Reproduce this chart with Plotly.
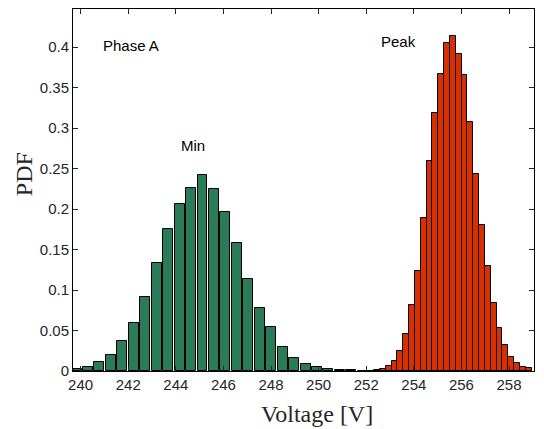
import plotly.graph_objects as go

# bin centres (V) and PDF heights
min_start = 239.83
min_step = 0.481
min_pdf = [0.003, 0.0053, 0.0115, 0.0197, 0.0369, 0.059, 0.0919, 0.1337, 0.1756,
           0.2068, 0.226, 0.2425, 0.2248, 0.196, 0.158, 0.114, 0.0784, 0.0542,
           0.0291, 0.016, 0.0084, 0.0055, 0.002, 0.0015, 0.001, 0.0005]
min_v = [round(min_start + i * min_step, 3) for i in range(len(min_pdf))]

peak_start = 251.965
peak_step = 0.245
peak_pdf = [0.0003, 0.0005, 0.001, 0.003, 0.006, 0.0123, 0.0246, 0.046, 0.081,
            0.124, 0.189, 0.259, 0.319, 0.367, 0.4045, 0.414, 0.392, 0.366,
            0.3077, 0.2437, 0.1797, 0.130, 0.084, 0.0525, 0.032, 0.0172,
            0.0094, 0.0053, 0.0033]
peak_v = [round(peak_start + i * peak_step, 3) for i in range(len(peak_pdf))]

x_ticks = list(range(240, 259, 2))
y_ticks = [0, 0.05, 0.1, 0.15, 0.2, 0.25, 0.3, 0.35, 0.4]
y_labels = ["0", "0.05", "0.1", "0.15", "0.2", "0.25", "0.3", "0.35", "0.4"]

fig = go.Figure()
fig.add_trace(go.Bar(
    x=min_v, y=min_pdf, width=0.42, name="Min",
    marker=dict(color="#2a7b57", line=dict(color="black", width=1)),
))
fig.add_trace(go.Bar(
    x=peak_v, y=peak_pdf, width=peak_step, name="Peak",
    marker=dict(color="#d92e00", line=dict(color="black", width=1)),
))

axis_style = dict(
    showline=True, linecolor="black", linewidth=1, mirror="allticks",
    ticks="inside", ticklen=5, tickcolor="#262626", showgrid=False, zeroline=False,
    tickfont=dict(family="Liberation Sans, Arial", size=15, color="#262626"),
)
fig.update_xaxes(range=[239.68, 259.05], tickvals=x_ticks, **axis_style)
fig.update_yaxes(range=[0, 0.447], tickvals=y_ticks, ticktext=y_labels, **axis_style)

txt = dict(family="Liberation Sans, Arial", size=15, color="black")
fig.add_annotation(x=242.1, y=0.4025, text="Phase A", showarrow=False, font=txt)
fig.add_annotation(x=244.71, y=0.278, text="Min", showarrow=False, font=txt)
fig.add_annotation(x=253.37, y=0.407, text="Peak", showarrow=False, font=txt)

serif = dict(family="Liberation Serif, Times New Roman", size=24, color="#262626")
fig.add_annotation(x=0.529, y=-0.119, xref="paper", yref="paper", text="Voltage [V]",
                   showarrow=False, font=serif, yanchor="middle")
fig.add_annotation(x=-0.106, y=0.544, xref="paper", yref="paper", text="PDF",
                   showarrow=False, font=serif, textangle=-90, xanchor="center")

# page body adds an 8px margin, so the figure is sized to fit the window
fig.update_layout(
    width=536, height=421,
    margin=dict(l=65, r=10, t=1, b=58),
    plot_bgcolor="white", paper_bgcolor="white",
    showlegend=False, bargap=0,
)
fig.write_html("out.html")
